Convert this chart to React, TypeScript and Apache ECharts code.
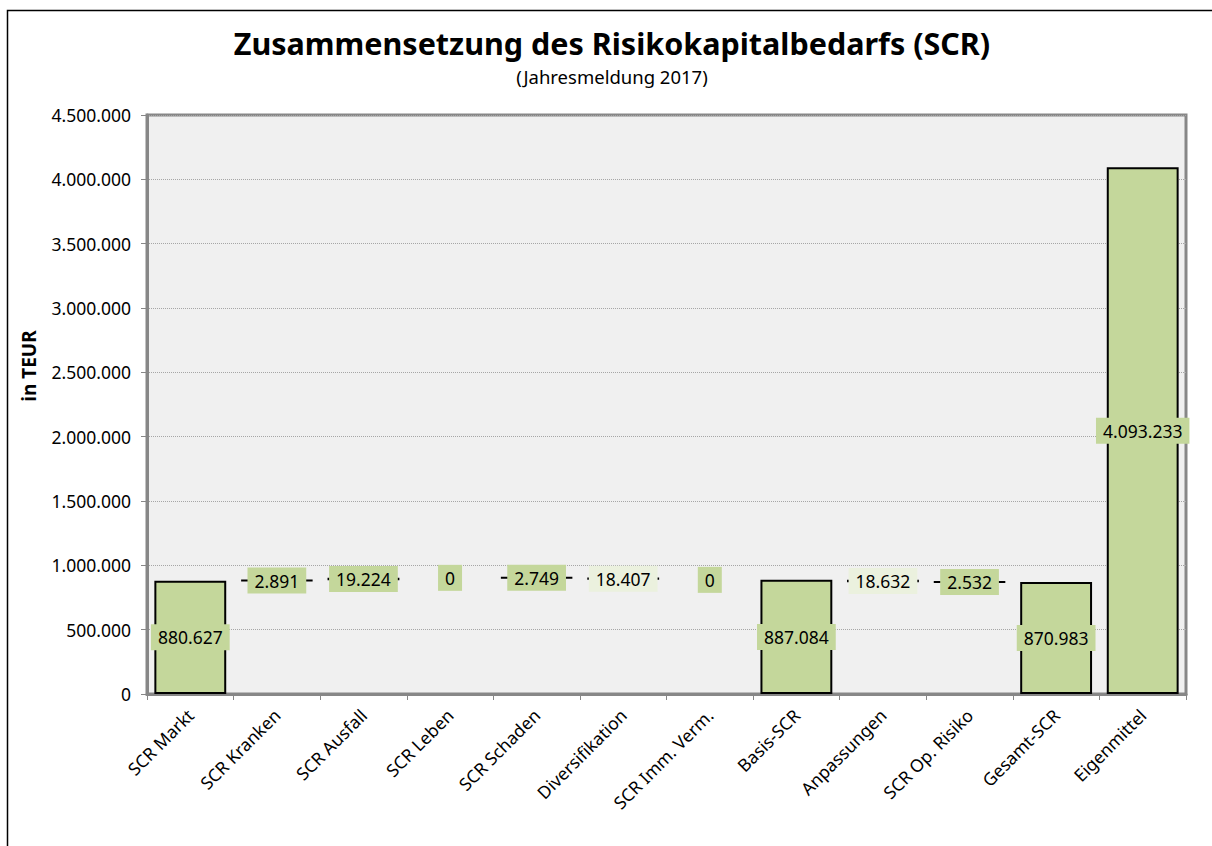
import React, { useEffect, useRef } from "react";
import * as echarts from "echarts";

const categories = [
  "SCR Markt",
  "SCR Kranken",
  "SCR Ausfall",
  "SCR Leben",
  "SCR Schaden",
  "Diversifikation",
  "SCR Imm. Verm.",
  "Basis-SCR",
  "Anpassungen",
  "SCR Op. Risiko",
  "Gesamt-SCR",
  "Eigenmittel",
];
const values = [880627, 2891, 19224, 0, 2749, -18407, 0, 887084, -18632, 2532, 870983, 4093233];
const isTotal = [true, false, false, false, false, false, false, true, false, false, true, true];
const yTicks = { min: 0, max: 4500000, interval: 500000 };

const titleText = "Zusammensetzung des Risikokapitalbedarfs (SCR)";
const subtitleText = "(Jahresmeldung 2017)";
const yAxisName = "in TEUR";

const FONT = "'Noto Sans', 'Open Sans', sans-serif";
const GREEN = "#c4d79b";
const LIGHT = "#ebf1de";

function fmt(v: number): string {
  const s = Math.round(Math.abs(v)).toString();
  return s.replace(/\B(?=(\d{3})+(?!\d))/g, ".");
}

export default function App() {
  const ref = useRef<HTMLDivElement>(null);

  useEffect(() => {
    if (!ref.current) return;
    const chart = echarts.init(ref.current, null, { renderer: "svg" });

    const base: number[] = [];
    const heights: any[] = [];
    let running = 0;
    values.forEach((v, i) => {
      if (isTotal[i]) {
        base.push(0);
        running = v;
        heights.push({
          value: v,
          itemStyle: { color: GREEN, borderColor: "#000", borderWidth: 2 },
          label: { backgroundColor: GREEN },
        });
      } else if (v >= 0) {
        base.push(running);
        running += v;
        heights.push({
          value: v,
          itemStyle: { color: GREEN, borderColor: "#000", borderWidth: v === 0 ? 0 : 2 },
          label: { backgroundColor: GREEN },
        });
      } else {
        running += v;
        base.push(running);
        heights.push({
          value: -v,
          itemStyle: { color: LIGHT, borderColor: "#000", borderWidth: 2 },
          label: { backgroundColor: LIGHT },
        });
      }
    });

    chart.setOption({
      animation: false,
      backgroundColor: "#fff",
      textStyle: { fontFamily: FONT },
      graphic: [
        {
          type: "rect",
          shape: { x: 7.5, y: 10.5, width: 1400, height: 1000 },
          style: { fill: "none", stroke: "#000", lineWidth: 1.5 },
          silent: true,
          z: -10,
        },
        {
          type: "text",
          x: 612,
          y: 43,
          style: {
            text: titleText,
            fontSize: 30.5,
            fontWeight: "bold",
            fontFamily: FONT,
            fill: "#000",
            align: "center",
            verticalAlign: "middle",
          },
          silent: true,
        },
        {
          type: "text",
          x: 612,
          y: 76,
          style: {
            text: subtitleText,
            fontSize: 18.5,
            fontFamily: FONT,
            fill: "#000",
            align: "center",
            verticalAlign: "middle",
          },
          silent: true,
        },
        {
          type: "text",
          x: 29,
          y: 366,
          rotation: Math.PI / 2,
          style: {
            text: yAxisName,
            fontSize: 19,
            fontWeight: "bold",
            fontFamily: FONT,
            fill: "#000",
            align: "center",
            verticalAlign: "middle",
          },
          silent: true,
        },
      ],
      grid: {
        left: 147,
        right: 26,
        top: 115,
        bottom: 152,
        show: true,
        backgroundColor: "#f0f0f0",
        borderColor: "#878787",
        borderWidth: 3,
      },
      xAxis: {
        type: "category",
        data: categories,
        axisLine: { show: true, lineStyle: { color: "#878787", width: 3 } },
        axisTick: { show: true, alignWithLabel: false, length: 6, lineStyle: { color: "#878787" } },
        axisLabel: {
          rotate: 45,
          interval: 0,
          margin: 18,
          fontSize: 17.5,
          color: "#000",
          fontFamily: FONT,
        },
      },
      yAxis: {
        type: "value",
        min: yTicks.min,
        max: yTicks.max,
        interval: yTicks.interval,
        axisLine: { show: true, lineStyle: { color: "#878787", width: 3 } },
        axisTick: { show: true, length: 6, lineStyle: { color: "#878787" } },
        axisLabel: {
          fontSize: 17.5,
          color: "#000",
          margin: 16,
          fontFamily: FONT,
          formatter: (v: number) => fmt(v),
        },
        splitLine: { show: true, lineStyle: { color: "#a6a6a6", type: "dotted", width: 1 } },
      },
      series: [
        {
          type: "bar",
          stack: "wf",
          data: base,
          itemStyle: { color: "transparent", borderWidth: 0 },
          emphasis: { disabled: true },
          silent: true,
          barWidth: "83%",
        },
        {
          type: "bar",
          stack: "wf",
          data: heights,
          barWidth: "83%",
          label: {
            show: true,
            position: "inside",
            color: "#000",
            fontSize: 17.5,
            fontFamily: FONT,
            padding: [4, 7, 3, 7],
            lineHeight: 19,
            formatter: (p: any) => fmt(values[p.dataIndex]),
          },
        },
      ],
    });

    return () => chart.dispose();
  }, []);

  return (
    <div
      ref={ref}
      style={{ position: "fixed", left: 0, top: 0, width: 1212, height: 846 }}
    />
  );
}
